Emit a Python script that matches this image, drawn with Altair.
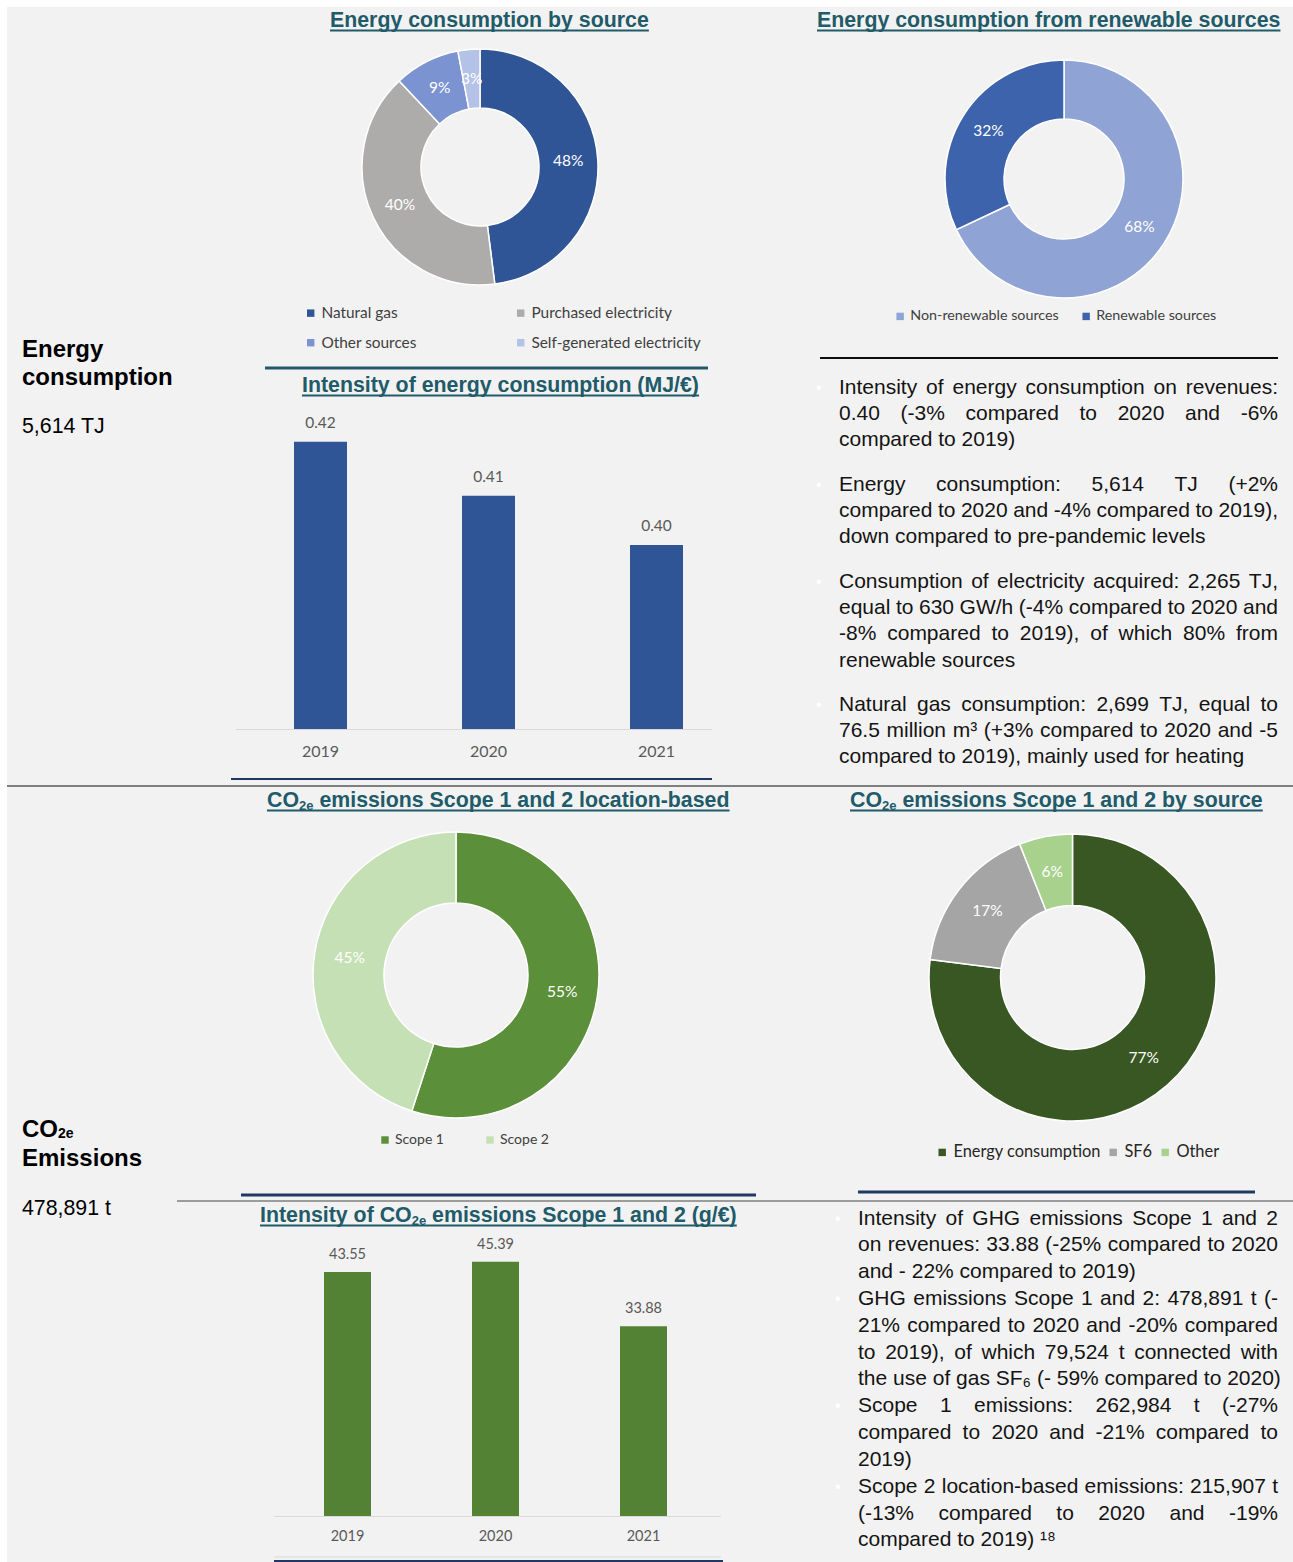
import altair as alt
import pandas as pd

# ---------------- data ----------------
src_cats = ["Natural gas", "Purchased electricity", "Other sources", "Self-generated electricity"]
src_vals = [48, 40, 9, 3]

ren_cats = ["Non-renewable sources", "Renewable sources"]
ren_vals = [68, 32]

years = ["2019", "2020", "2021"]
energy_intensity = [0.4218, 0.4083, 0.3960]   # MJ/€ (labels 0.42, 0.41, 0.40)
co2_intensity = [43.55, 45.39, 33.88]          # g/€

scope_cats = ["Scope 1", "Scope 2"]
scope_vals = [55, 45]

co2src_cats = ["Energy consumption", "SF6", "Other"]
co2src_vals = [77, 17, 6]

energy_notes = [
    ["Intensity of energy consumption on revenues:",
     "0.40 (-3% compared to 2020 and -6%",
     "compared to 2019)"],
    ["Energy consumption: 5,614 TJ (+2%",
     "compared to 2020 and -4% compared to 2019),",
     "down compared to pre-pandemic levels"],
    ["Consumption of electricity acquired: 2,265 TJ,",
     "equal to 630 GW/h (-4% compared to 2020 and",
     "-8% compared to 2019), of which 80% from",
     "renewable sources"],
    ["Natural gas consumption: 2,699 TJ, equal to",
     "76.5 million m\u00b3 (+3% compared to 2020 and -5",
     "compared to 2019), mainly used for heating"],
]
emission_notes = [
    ["Intensity of GHG emissions Scope 1 and 2",
     "on revenues: 33.88 (-25% compared to 2020",
     "and - 22% compared to 2019)"],
    ["GHG emissions Scope 1 and 2: 478,891 t (-",
     "21% compared to 2020 and -20% compared",
     "to 2019), of which 79,524 t connected with",
     "the use of gas SF\u2086 (- 59% compared to 2020)"],
    ["Scope 1 emissions: 262,984 t (-27%",
     "compared to 2020 and -21% compared to",
     "2019)"],
    ["Scope 2 location-based emissions: 215,907 t",
     "(-13% compared to 2020 and -19%",
     "compared to 2019) \u00b9\u2078"],
]

# ---------------- styles ----------------
SANS = "Liberation Sans"
LBL = "Lato"
TITLE_C = "#215A69"
TEXT_C = "#141414"
src_colors = ["#2F5597", "#AEABAB", "#7B93D1", "#B4C2E7"]
ren_colors = ["#8FA3D4", "#3C63AC"]
scope_colors = ["#5B8F39", "#C5E0B4"]
co2src_colors = ["#385723", "#A5A5A5", "#A9D18E"]

# Arial / Liberation Sans advance widths (1/1000 em) for layout of text
_punct = " !\"#$%&'()*+,-./"
_REG = dict(zip(_punct, [278, 278, 355, 556, 556, 889, 667, 191, 333, 333, 389, 584, 278, 333, 278, 278]))
_REG.update({d: 556 for d in "0123456789"})
_REG.update({":": 278, ";": 278, "?": 556, "\u20ac": 556, "\u00b3": 333, "\u2086": 333, "\u00b9": 333, "\u2078": 333})
_REG.update(dict(zip("ABCDEFGHIJKLMNOPQRSTUVWXYZ",
                     [667, 667, 722, 722, 667, 611, 778, 722, 278, 500, 667, 556, 833, 722, 778, 667, 778, 722, 667, 611, 722, 667, 944, 667, 667, 611])))
_REG.update(dict(zip("abcdefghijklmnopqrstuvwxyz",
                     [556, 556, 500, 556, 556, 278, 556, 556, 222, 222, 500, 222, 833, 556, 556, 556, 556, 333, 500, 278, 556, 500, 722, 500, 500, 500])))
_BOLD = dict(_REG)
_BOLD.update({":": 333})
_BOLD.update(dict(zip("ABCDEFGHIJKLMNOPQRSTUVWXYZ",
                      [722, 722, 722, 722, 667, 611, 778, 722, 278, 556, 722, 611, 833, 722, 778, 667, 778, 722, 667, 611, 722, 667, 944, 667, 667, 611])))
_BOLD.update(dict(zip("abcdefghijklmnopqrstuvwxyz",
                      [556, 611, 556, 611, 556, 333, 611, 611, 278, 278, 556, 278, 889, 611, 611, 611, 611, 389, 556, 333, 611, 556, 778, 556, 556, 500])))


def tw(s, size, bold=False):
    t = _BOLD if bold else _REG
    return sum(t.get(ch, 556) for ch in s) * size / 1000.0


texts = []   # static text pieces
rules = []   # decorative lines


def add_text(t, x, y, s, c=TEXT_C, w="normal"):
    texts.append(dict(t=t, x=x, y=y, s=s, c=c, w=w))


def title(parts, x0, y, size=21.33, sub=13.0):
    x = x0
    for i, p in enumerate(parts):
        is_sub = i % 2 == 1
        s = sub if is_sub else size
        if p.startswith(" "):
            x += tw(" ", s, True)
            p = p.lstrip()
        add_text(p, x, y + (3 if is_sub else 0), s, TITLE_C, "bold")
        x += tw(p, s, True)
    rules.append(dict(x=x0, x2=x, y=y + 3.5, c=TITLE_C, w=2))


def paragraph_block(paras, x0, x1, y_starts, step, bullet_x, size=21):
    width = x1 - x0
    for para, y0 in zip(paras, y_starts):
        add_text("\u2022", bullet_x, y0 - 1, 16, "#FFFFFF")
        for k, line in enumerate(para):
            y = y0 + k * step
            if k == len(para) - 1:
                add_text(line, x0, y, size)
                continue
            words = line.split(" ")
            ws = [tw(wd, size) for wd in words]
            gap = (width - sum(ws)) / (len(words) - 1)
            x = x0
            for wd, wdw in zip(words, ws):
                add_text(wd, x, y, size)
                x += wdw + gap


# titles
title(["Energy consumption by source"], 330, 27)
title(["Energy consumption from renewable sources"], 817, 27)
title(["Intensity of energy consumption (MJ/\u20ac)"], 302, 392)
title(["CO", "2e", " emissions Scope 1 and 2 location-based"], 267, 807)
title(["CO", "2e", " emissions Scope 1 and 2 by source"], 850, 807)
title(["Intensity of CO", "2e", " emissions Scope 1 and 2 (g/\u20ac)"], 260, 1222)

# section headings
add_text("Energy", 22, 357, 24, "#000000", "bold")
add_text("consumption", 22, 385, 24, "#000000", "bold")
add_text("5,614 TJ", 22, 433, 21.33, "#000000")
add_text("CO", 22, 1137, 24, "#000000", "bold")
add_text("2e", 22 + tw("CO", 24, True), 1138, 14, "#000000", "bold")
add_text("Emissions", 22, 1166, 24, "#000000", "bold")
add_text("478,891 t", 22, 1215, 21.33, "#000000")

# body text
paragraph_block(energy_notes, 839, 1278, [393.5, 490.5, 587.5, 710.5], 26.4, 816)
paragraph_block(emission_notes, 858, 1278,
                [1224.5, 1224.5 + 3 * 26.83, 1224.5 + 7 * 26.83, 1224.5 + 10 * 26.83], 26.83, 835)

# decorative lines
rules += [
    dict(x=7, x2=1293, y=786, c="#7F7F7F", w=2),
    dict(x=177, x2=1293, y=1201, c="#7F7F7F", w=1.5),
    dict(x=265, x2=708, y=368, c="#215968", w=3),
    dict(x=820, x2=1278, y=358, c="#0D0D0D", w=2),
    dict(x=231, x2=712, y=779, c="#1F3864", w=2),
    dict(x=241, x2=756, y=1195, c="#1F3864", w=3),
    dict(x=858, x2=1255, y=1192, c="#1F3864", w=3),
    dict(x=274, x2=723, y=1561, c="#1F3864", w=2),
    dict(x=236, x2=712, y=729.5, c="#D9D9D9", w=1),
    dict(x=274, x2=721, y=1516.5, c="#D9D9D9", w=1),
    dict(x=274, x2=721, y=1557, c="#D9D9D9", w=1),
]


# ---------------- chart builders ----------------
def legend(x, y, cols, colpad, size=14, color="#404040", rowpad=13):
    return alt.Legend(orient="none", legendX=x, legendY=y, direction="horizontal",
                      columns=cols, columnPadding=colpad, rowPadding=rowpad,
                      symbolType="square", symbolSize=55, symbolStrokeWidth=0,
                      labelFont=LBL, labelFontSize=size, labelColor=color,
                      labelOffset=3, title=None, padding=0, labelLimit=400)


def donut(cats, vals, colors, cx, cy, r_in, r_out, leg, lbl_size=15.5):
    df = pd.DataFrame({"cat": cats, "val": vals, "idx": list(range(len(cats))),
                       "lbl": [f"{v}%" for v in vals]})
    base = alt.Chart(df).encode(theta=alt.Theta("val:Q", stack=True),
                                order=alt.Order("idx:Q"),
                                x=alt.value(cx), y=alt.value(cy))
    arc = base.mark_arc(innerRadius=r_in, outerRadius=r_out, stroke="white", strokeWidth=1.5).encode(
        color=alt.Color("cat:N", scale=alt.Scale(domain=cats, range=colors), legend=leg))
    txt = base.mark_text(radius=(r_in + r_out) / 2, font=LBL, fontSize=lbl_size, color="white").encode(
        text="lbl:N")
    return [arc, txt]


def bar_chart(vals, color, rng, pad_in, ydom, yrng, fmt, dy, year_y, vsize=14.5, ysize=14.5):
    df = pd.DataFrame({"year": years, "v": vals})
    X = alt.X("year:N", axis=None,
              scale=alt.Scale(domain=years, range=rng, paddingInner=pad_in, paddingOuter=pad_in / 2))
    Y = alt.Y("v:Q", axis=None, scale=alt.Scale(domain=ydom, range=yrng, nice=False, zero=False))
    bars = alt.Chart(df).mark_bar(color=color).encode(x=X, y=Y, y2=alt.datum(ydom[0]))
    vlab = alt.Chart(df).mark_text(font=LBL, fontSize=vsize, color="#595959", dy=dy, baseline="middle").encode(
        x=X, y=Y, text=alt.Text("v:Q", format=fmt))
    ylab = alt.Chart(df).mark_text(font=LBL, fontSize=ysize, color="#595959", baseline="middle").encode(
        x=X, y=alt.value(year_y), text="year:N")
    return [bars, vlab, ylab]


layers = []
one = alt.Data(values=[{"a": 1}])
layers.append(alt.Chart(one).mark_rect(color="#F2F2F2").encode(
    x=alt.value(7), x2=alt.value(1293), y=alt.value(7), y2=alt.value(1562)))

layers += donut(src_cats, src_vals, src_colors, 480, 167, 59, 118,
                legend(303, 305, 2, 96, size=15.4))
layers += donut(ren_cats, ren_vals, ren_colors, 1064, 179, 60, 119,
                legend(893, 309, 2, 20, size=14.3))
layers += donut(scope_cats, scope_vals, scope_colors, 456, 975, 72, 143,
                legend(378, 1133, 2, 39, size=14))
layers += donut(co2src_cats, co2src_vals, co2src_colors, 1072.5, 977.5, 72, 143.5,
                legend(934, 1144, 3, 4, size=16.4, color="#262626"))

layers += bar_chart(energy_intensity, "#2F5597", [236.5, 740.5], 115 / 168, [0.35, 0.43], [729, 409],
                    ".2f", -19, 752, vsize=15.5, ysize=16)
layers += bar_chart(co2_intensity, "#548235", [273.5, 717.5], 101 / 148, [0, 50], [1516, 1236],
                    ".2f", -17, 1537)

rdf = pd.DataFrame(rules)
layers.append(alt.Chart(rdf).mark_rule().encode(
    x=alt.X("x:Q", scale=None), x2="x2:Q", y=alt.Y("y:Q", scale=None),
    color=alt.Color("c:N", scale=None), strokeWidth=alt.StrokeWidth("w:Q", scale=None)))

tdf = pd.DataFrame(texts)
for wgt in ["normal", "bold"]:
    sub = tdf[tdf.w == wgt]
    layers.append(alt.Chart(sub).mark_text(align="left", baseline="alphabetic", font=SANS, fontWeight=wgt).encode(
        x=alt.X("x:Q", scale=None), y=alt.Y("y:Q", scale=None), text="t:N",
        size=alt.Size("s:Q", scale=None), color=alt.Color("c:N", scale=None)))

chart = alt.layer(*layers).resolve_scale(
    x="independent", y="independent", color="independent", theta="independent",
    size="independent", strokeWidth="independent"
).properties(
    width=1293, height=1562, autosize=alt.AutoSizeParams(type="none"), padding=0, background="white"
).configure_view(strokeWidth=0)

chart.save("out.html", embed_options={"renderer": "svg", "actions": False})
